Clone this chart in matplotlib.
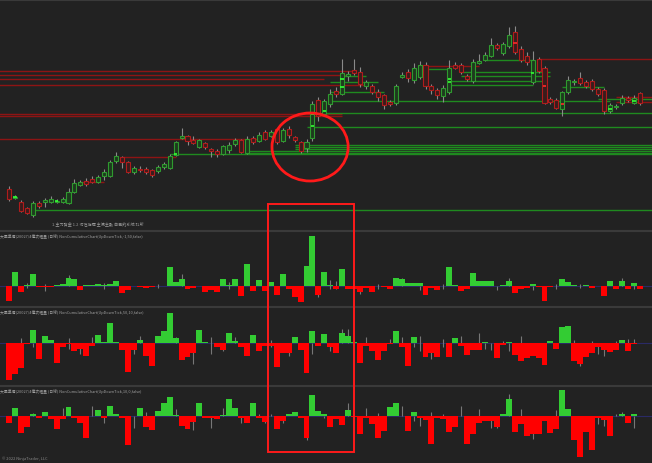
import numpy as np
import matplotlib
matplotlib.use("Agg")
import matplotlib.pyplot as plt
from matplotlib.patches import Ellipse, Rectangle
from matplotlib.lines import Line2D

# ---- candles (one per bar slot) ----
opens = [60, 51, 47, 41, 34, 46, 47, 47, 47, 47, 46, 57, 64, 68, 70, 67, 73, 73, 88, 92,
         87, 77, 80, 80, 79, 78, 82, 81, 94, 111, 113, 109, 102, 106, 100, 98, 95, 99, 105, 109,
         96, 111, 108, 117, 113, 120, 108, 120, 112, 107, 101, 111, 149, 135, 145, 158, 155, 173, 179, 177,
         163, 163, 157, 154, 147, 146, 172, 177, 169, 172, 184, 163, 159, 153, 157, 184, 184, 173, 168, 186,
         189, 193, 204, 196, 203, 217, 200, 193, 167, 190, 181, 150, 149, 140, 157, 167, 171, 167, 168, 160,
         159, 138, 142, 146, 151, 146, 156]
closes = [50, 52, 38, 36, 46, 43, 49, 50, 48, 50, 57, 66, 67, 65, 67, 72, 77, 87, 93, 87,
          77, 81, 79, 77, 74, 82, 85, 93, 107, 113, 108, 106, 109, 102, 98, 95, 103, 104, 109, 97,
          110, 107, 114, 110, 117, 107, 119, 114, 109, 98, 107, 145, 133, 148, 155, 155, 176, 175, 176, 165,
          167, 157, 152, 144, 145, 163, 174, 171, 181, 184, 163, 159, 154, 161, 181, 181, 177, 170, 187, 188,
          194, 204, 201, 205, 214, 197, 189, 187, 189, 178, 146, 147, 141, 157, 169, 168, 166, 163, 160, 155,
          138, 144, 143, 151, 149, 151, 146]
highs = [63, 54, 49, 42, 48, 48, 51, 53, 50, 52, 61, 70, 69, 71, 73, 74, 80, 89, 97, 93,
         88, 83, 83, 82, 80, 84, 87, 95, 108, 121, 114, 113, 110, 107, 101, 100, 104, 107, 111, 110,
         113, 113, 117, 119, 119, 121, 121, 123, 113, 108, 110, 148, 152, 150, 160, 162, 190, 178, 190, 182,
         169, 165, 160, 155, 149, 165, 177, 180, 186, 188, 187, 165, 161, 164, 189, 187, 186, 175, 190, 195,
         197, 211, 206, 207, 222, 223, 203, 197, 198, 192, 183, 152, 151, 158, 173, 170, 177, 169, 170, 162,
         161, 146, 145, 154, 153, 154, 157]
lows = [48, 50, 37, 35, 32, 41, 42, 46, 46, 46, 45, 56, 63, 63, 66, 66, 69, 72, 86, 81,
        76, 75, 77, 75, 72, 76, 80, 80, 93, 110, 104, 105, 101, 100, 92, 92, 94, 96, 103, 96,
        95, 105, 107, 109, 112, 105, 107, 111, 107, 96, 97, 108, 128, 133, 142, 152, 154, 168, 174, 162,
        160, 155, 148, 140, 143, 144, 171, 167, 166, 170, 160, 155, 150, 147, 155, 180, 175, 168, 166, 185,
        188, 192, 199, 194, 201, 195, 187, 184, 165, 176, 145, 145, 140, 133, 155, 164, 164, 161, 158, 153,
        135, 136, 140, 144, 147, 145, 144]

# bright marker ticks inside some candles: slot, price, colour
poc_idx = [1, 8, 28, 51, 51, 53, 56, 56, 74, 74, 88, 90, 93, 101, 105, 85]
poc_px = [52, 48, 95, 135, 123, 138, 170, 162, 167, 170, 176, 163, 145, 140, 148, 206]
poc_col = ['g', 'g', 'g', 'g', 'g', 'g', 'g', 'g', 'g', 'g', 'g', 'r', 'r', 'g', 'g', 'r']

# support / resistance levels: price, first slot, last slot
red_lvl = [178, 174, 170, 164, 135, 133, 110, 92, 67, 183, 190, 152, 147]
red_x0 = [-2, -2, -2, -2, -2, -2, -2, 19, 12, 69, 89, 102, 102]
red_x1 = [58, 57, 53, 60, 56, 56, 42, 28, 16, 79, 109, 109, 109]
green_lvl = [39, 95, 96, 98, 100, 102, 104, 122, 136, 148, 157, 162, 167, 164, 168, 177, 173, 189, 173, 180, 150]
green_x0 = [4, 27, 40, 40, 48, 48, 48, 50, 52, 54, 54, 93, 54, 74, 74, 76, 76, 80, 56, 70, 99]
green_x1 = [109, 109, 109, 109, 109, 109, 109, 109, 109, 101, 63, 100, 62, 88, 90, 91, 91, 88, 60, 74, 109]

# ---- histogram panels (UpDownTick) ----
tick_a = [-15, 14, -6, 1, 12, -1, -1, -1, 1, 2, 8, 7, -4, 1, 1, 2, 1, 2, 5, -7,
          -4, 0, -1, -2, -1, 0, 0, 19, 4, 7, -3, -2, 0, -6, -4, -6, 7, 1, 7, -10,
          22, -5, 6, -5, 4, -9, 12, -3, -11, -16, 20, 50, -9, 14, 1, -3, 17, -3, -3, -6,
          -2, -6, 0, -1, -3, 8, 7, 3, 3, 3, -9, -2, -4, 0, 19, 1, -5, -3, 13, 5,
          5, 5, 0, 1, 5, -7, -3, -2, 2, -1, -15, -1, 0, 7, 4, 1, 0, 1, -2, 0,
          -10, 5, -3, 5, -3, 3, -3]
tick_b = [-37, -31, -25, -1, 13, -16, 7, 3, -20, -4, -1, -8, -6, -13, -3, 8, 1, 20, 1, -7,
          -29, -7, 3, -13, -23, 7, 12, 30, 5, -17, -14, -10, 13, 1, 0, -4, -7, 10, 2, -4,
          -13, 8, -8, -3, -3, -24, -10, -10, 6, -7, -30, 12, -3, 9, -4, -10, 10, 7, 1, -20,
          -3, -8, -17, -8, -1, 12, -4, -23, 6, 0, -14, -10, -14, 0, -14, 5, -3, -12, -7, -7,
          1, 0, -15, -2, 1, -12, -18, -15, -13, -15, -22, 2, -6, 16, 17, -18, -21, -14, -10, -4,
          -7, -9, -7, 3, -8, -1, 0]
tick_c = [-7, 8, -17, -11, 2, -2, 4, -3, -13, -3, 9, -2, -7, -22, 0, 6, -2, 10, 2, -2,
          -29, 0, 8, -11, -14, 5, 13, 19, 1, -10, -13, -6, 13, -2, -2, -3, 1, 17, 8, -2,
          -7, 13, -2, -6, 0, -13, -5, 2, 4, -2, -22, 21, 5, 2, -11, -3, -9, 6, -1, -18,
          -2, -8, -22, -15, 9, 13, 0, -15, 4, -2, -4, -28, -2, -3, -16, -11, 0, -28, -18, -7,
          -5, -5, -11, 2, 17, -16, -8, -20, -18, -18, -5, -17, -13, 26, 7, -24, -41, -16, -34, -2,
          -4, -20, 0, 2, -7, 2, 0]

# thin grey range marks: slot, low, high
wa_idx = [3, 6, 10, 16, 25, 29, 37, 52, 54, 55, 59, 62, 66, 69, 73, 82, 84, 88, 92, 96, 103, 105]
wa_lo = [-2, -5, 0, -3, -2, 0, -3, -11, -3, -3, -8, -3, 0, -4, -3, -4, 0, -4, -3, -2, 0, -3]
wa_hi = [3, 2, 11, 3, 2, 12, 4, 0, 6, 5, 0, 2, 8, 0, 2, 0, 8, 0, 2, 2, 8, 3]
wb_idx = [2, 4, 10, 12, 14, 21, 22, 28, 31, 34, 36, 38, 44, 47, 51, 54, 56, 57, 60, 64,
          66, 68, 69, 71, 73, 76, 79, 80, 81, 83, 84, 86, 95, 96, 98, 99, 100, 102, 104, 105]
wb_lo = [0, -4, -6, -11, 0, -11, 0, 0, -21, -11, -8, 0, -4, -13, -11, -8, 0, 0, 0, 0,
         0, -4, -8, -16, -4, 0, 0, -6, -7, 0, -8, 0, 0, -23, 0, -11, -13, 0, 0, 0]
wb_hi = [5, 0, 5, 0, 6, 0, 7, 6, 0, 6, 0, 6, 3, 0, 0, 0, 14, 14, 6, 4,
         6, 0, 7, 0, 4, 7, 10, 0, 0, 2, 0, 7, 3, 0, 2, 0, 0, 2, 4, 4]
wc_idx = [4, 9, 14, 16, 21, 23, 28, 31, 34, 36, 39, 42, 43, 44, 46, 50, 53, 57, 60, 62,
          66, 68, 69, 71, 73, 76, 79, 81, 82, 84, 86, 88, 92, 99, 100, 102, 103, 105]
wc_lo = [0, 0, 0, -7, -12, 0, 0, -14, -12, 0, -7, 0, -7, 0, -7, -24, -2, 0, 0, 0,
         0, -5, -10, 0, 0, 0, 0, -12, -12, 0, 0, -23, 0, -8, -10, 0, 0, -12]
wc_hi = [3, 8, 10, 0, 0, 4, 7, 0, 0, 8, 0, 2, 0, 2, 0, 0, 0, 13, 8, 3,
         10, 0, 0, 4, 2, 10, 7, 0, 0, 22, 7, 0, 6, 0, 0, 2, 4, 0]

BG = '#222222'
W, H = 652, 464
plt.rcParams['font.family'] = ['Noto Sans CJK TC', 'DejaVu Sans']

fig = plt.figure(figsize=(W / 100, H / 100), dpi=100, facecolor=BG)
x = np.arange(len(opens))
xl = (-9 / 5.95, (W - 9) / 5.95)


def panel(top, bottom):
    ax = fig.add_axes([0, 1 - bottom / H, 1, (bottom - top) / H])
    ax.set_facecolor(BG)
    ax.set_xlim(*xl)
    ax.set_xticks([])
    ax.set_yticks([])
    for s in ax.spines.values():
        s.set_visible(False)
    return ax


# price panel
ax0 = panel(0, 228)
ax0.set_ylim(22, 250)
for lv, a, b in zip(red_lvl, red_x0, red_x1):
    ax0.hlines(lv, a, b, color='#8e1414', lw=1.0, zorder=1)
for lv, a, b in zip(green_lvl, green_x0, green_x1):
    ax0.hlines(lv, a, b, color='#1f8a1f', lw=1.0, zorder=1)
o = np.array(opens, float)
c = np.array(closes, float)
up = c >= o
ax0.vlines(x, lows, highs, color='#8a8a8a', lw=0.8, zorder=2)
body = np.maximum(np.abs(c - o), 0.8)
ax0.bar(x[up], body[up], bottom=np.minimum(o, c)[up], width=0.68,
        facecolor='#1e3a1e', edgecolor='#2f9a2f', lw=0.8, zorder=3)
ax0.bar(x[~up], body[~up], bottom=np.minimum(o, c)[~up], width=0.68,
        facecolor='#3a1c1c', edgecolor='#b01c1c', lw=0.8, zorder=3)
for i, p, col in zip(poc_idx, poc_px, poc_col):
    ax0.hlines(p, i - 0.3, i + 0.3, color='#33ff33' if col == 'g' else '#ff2a2a', lw=1.2, zorder=4)
ax0.add_patch(Ellipse((50.6, 102), 12.8, 68, fill=False, ec='#ff1a1a', lw=2.0, zorder=6))
ax0.text(98 / W, 0.005, '1.主力資金 1.2 功性指標 主流主數 自己的系統 打所', transform=ax0.transAxes,
         fontsize=2.95, color='#9a9a9a', ha='center', va='bottom')

labels = ['大單準備(20027/4億次租量 (日線) NonCumulativeChart(UpDownTick,-1,50,false)',
          '大單準備(20027/4億次租量 (日線) NonCumulativeChart(UpDownTick,50,10,false)',
          '大單準備(20027/4億次租量 (日線) NonCumulativeChart(UpDownTick,10,0,false)']
specs = [(233, 306, 287.3, tick_a, wa_idx, wa_lo, wa_hi),
         (309, 385, 344, tick_b, wb_idx, wb_lo, wb_hi),
         (388, 464, 416.7, tick_c, wc_idx, wc_lo, wc_hi)]
for lab, (t, b, z, vals, wi, wl, wh) in zip(labels, specs):
    ax = panel(t, b)
    ax.set_ylim(-(b - z), z - t)
    ax.axhline(0, color='#2a2a66', lw=0.8, zorder=1)
    ax.vlines(wi, wl, wh, color='#777777', lw=0.8, zorder=2)
    v = np.array(vals, float)
    ax.bar(x, v, width=1.0, color=np.where(v >= 0, '#33cc33', '#ff0000'), lw=0, zorder=3)
    ax.text(0.0, 1.0 - 1.5 / (b - t), lab, transform=ax.transAxes, fontsize=2.75,
            color='#a0a0a0', ha='left', va='top')

# panel separators
for yy in [231.5, 307.5, 386.5, 0.5]:
    fig.add_artist(Line2D([0, 1], [1 - yy / H] * 2, transform=fig.transFigure,
                          color='#3a3a3a', lw=1.5))

fig.add_artist(Rectangle((268 / W, 1 - 453 / H), 86 / W, 248 / H, transform=fig.transFigure,
                         fill=False, ec='#ff1a1a', lw=1.4, zorder=10))
fig.text(2 / W, 1 - 461 / H, '© 2022 NinjaTrader, LLC', fontsize=2.9, color='#8a8a8a',
         ha='left', va='bottom')

fig.savefig('out.png', dpi=100, facecolor=BG)
